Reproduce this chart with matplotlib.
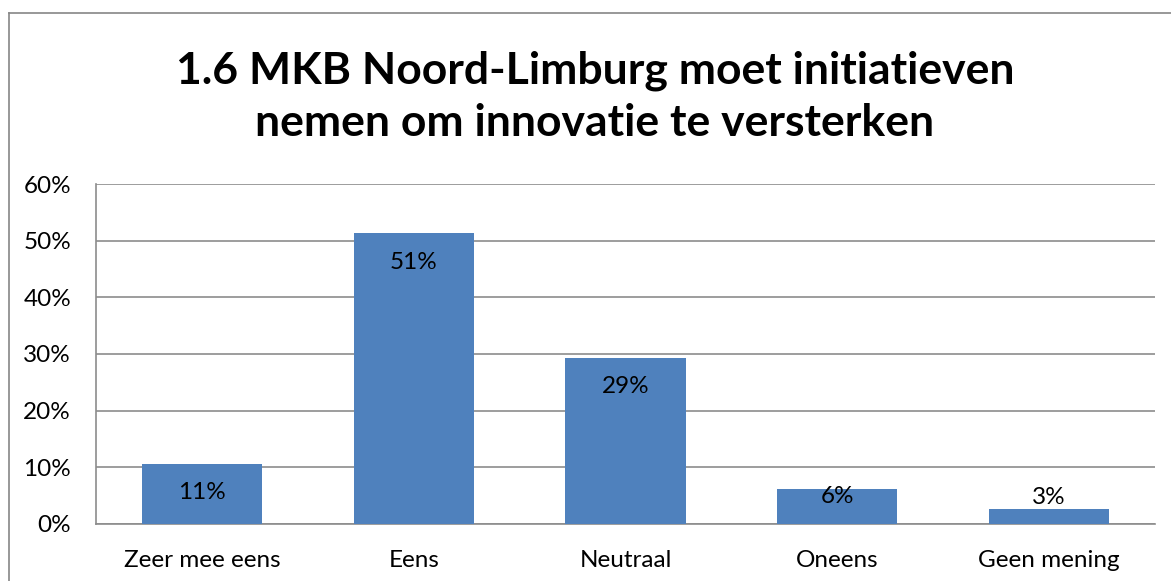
import matplotlib.pyplot as plt
from matplotlib.lines import Line2D

categories = ["Zeer mee eens", "Eens", "Neutraal", "Oneens", "Geen mening"]
values = [10.6, 51.3, 29.3, 6.2, 2.6]
yticks = [0, 10, 20, 30, 40, 50, 60]
title = "1.6 MKB Noord-Limburg moet initiatieven\nnemen om innovatie te versterken"

plt.rcParams["font.family"] = ["Lato", "DejaVu Sans"]

fig = plt.figure(figsize=(11.71, 5.81), dpi=100)
W, H = 1171, 581

# chart border (only left and top visible, rest cropped)
bx, by = 8.5 / W, (H - 13) / H
fig.add_artist(Line2D([bx, bx], [0, by], transform=fig.transFigure,
                      color="#868686", linewidth=1.2))
fig.add_artist(Line2D([bx, 1], [by, by], transform=fig.transFigure,
                      color="#868686", linewidth=1.2))

ax = fig.add_axes([96 / W, (H - 524) / H, (1155 - 96) / W, (524 - 184) / H])
x = list(range(len(categories)))
ax.bar(x, values, width=0.567, color="#4F81BD", zorder=3)
ax.set_xlim(-0.5, len(categories) - 0.5)
ax.set_ylim(0, 60)
ax.set_yticks(yticks)
ax.set_yticklabels([f"{v}%" for v in yticks], fontsize=17.5)
ax.set_xticks(x)
ax.set_xticklabels(categories, fontsize=17.5)
ax.tick_params(axis="both", length=0, colors="black")
ax.tick_params(axis="x", pad=19)
ax.tick_params(axis="y", pad=18)
ax.grid(axis="y", color="#8c8c8c", linewidth=1.2, zorder=0)
for s in ["top", "right"]:
    ax.spines[s].set_visible(False)
for s in ["left", "bottom"]:
    ax.spines[s].set_color("#8c8c8c")
    ax.spines[s].set_linewidth(1.2)

# data labels: inside end for tall bars, squeezed for short, above for tiny
for xi, v in zip(x, values):
    lbl = f"{round(v)}%"
    if v >= 10:
        y = v - 5.1
    elif v >= 5:
        y = v - 1.4
    else:
        y = v + 2.1
    ax.text(xi, y, lbl, ha="center", va="center", fontsize=17.5)

fig.text(0.508, (H - 97) / H, title, ha="center", va="center", fontsize=32,
         fontweight="bold", linespacing=1.35)

fig.savefig("out.png", dpi=100)
